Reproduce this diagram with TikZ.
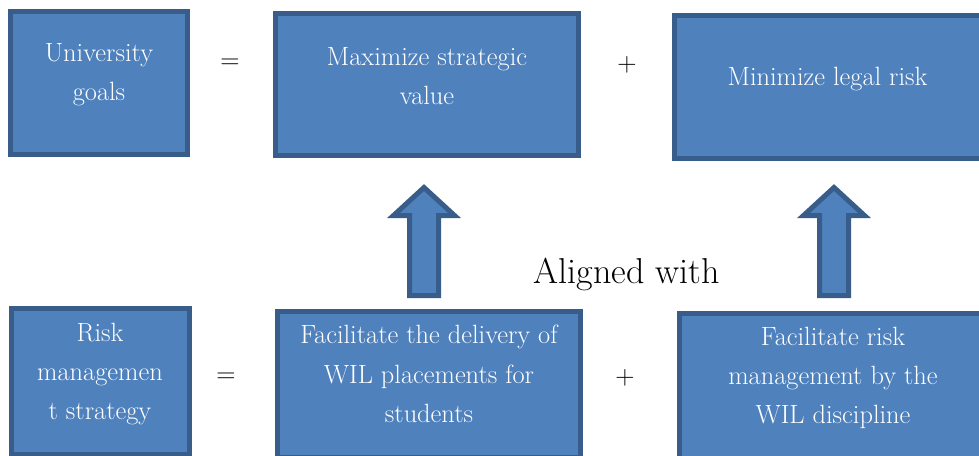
\documentclass[tikz,border=0pt]{standalone}
\definecolor{boxfill}{HTML}{4F81BD}
\definecolor{boxline}{HTML}{385D8A}
\tikzset{
  box/.style={draw=boxline, fill=boxfill, line width=3.75pt, inner sep=0pt},
  boxtext/.style={text=white, font=\fontsize{19.8}{29.5}\selectfont, align=center, inner sep=0pt},
  sign/.style={font=\fontsize{20}{24}\selectfont, inner sep=0pt},
  blockarrow/.style={draw=boxline, fill=boxfill, line width=3.75pt, line join=miter},
  upblock/.pic={
    \draw[blockarrow] (-14.5,-2.5) -- (-14.5,-82.5) -- (-30.5,-82.5) -- (0,-110.5)
      -- (30.5,-82.5) -- (14.5,-82.5) -- (14.5,-2.5) -- cycle;
  }
}
\begin{document}
\begin{tikzpicture}[x=0.75pt,y=-0.75pt]
\useasboundingbox (0,0) rectangle (979,455);

% top row: goals
\node[box, minimum width=132.75pt, minimum height=107.25pt] (goals) at (99,83) {};
\node[box, minimum width=227.25pt, minimum height=106.5pt] (maxval) at (427,84.5) {};
\node[box, minimum width=230.25pt, minimum height=107.25pt] (minrisk) at (828,87) {};

% bottom row: strategy
\node[box, minimum width=133.5pt, minimum height=109.5pt] (strategy) at (100.5,381.5) {};
\node[box, minimum width=227.25pt, minimum height=109.5pt] (delivery) at (429,384) {};
\node[box, minimum width=227.25pt, minimum height=109.5pt] (discipline) at (831,386) {};

% box labels
\node[boxtext] (goalsT) at (99,75) {University\\goals};
\node[boxtext] (maxvalT) at (427,76) {Maximize strategic\\value};
\node[boxtext] (minriskT) at (827.5,79) {Minimize legal risk};
\node[boxtext] (strategyT) at (100,374) {Risk\\managemen\\t strategy};
\node[boxtext] (deliveryT) at (429,374) {Facilitate the delivery of\\WIL placements for\\students};
\node[boxtext] (disciplineT) at (833,378) {Facilitate risk\\management by the\\WIL discipline};

% operators between boxes
\node[sign] (eqTop) at (230,63.5) {=};
\node[sign] (plusTop) at (627,65) {+};
\node[sign] (eqBot) at (226,378) {=};
\node[sign] (plusBot) at (625,378) {+};

% block arrows and their caption
\pic (arrowL) at (424,298) {upblock};
\pic (arrowR) at (834,298) {upblock};
\node[font=\fontsize{27}{32}\selectfont, anchor=base, inner sep=0pt] (aligned) at (626.5,283) {Aligned with};
\end{tikzpicture}
\end{document}
